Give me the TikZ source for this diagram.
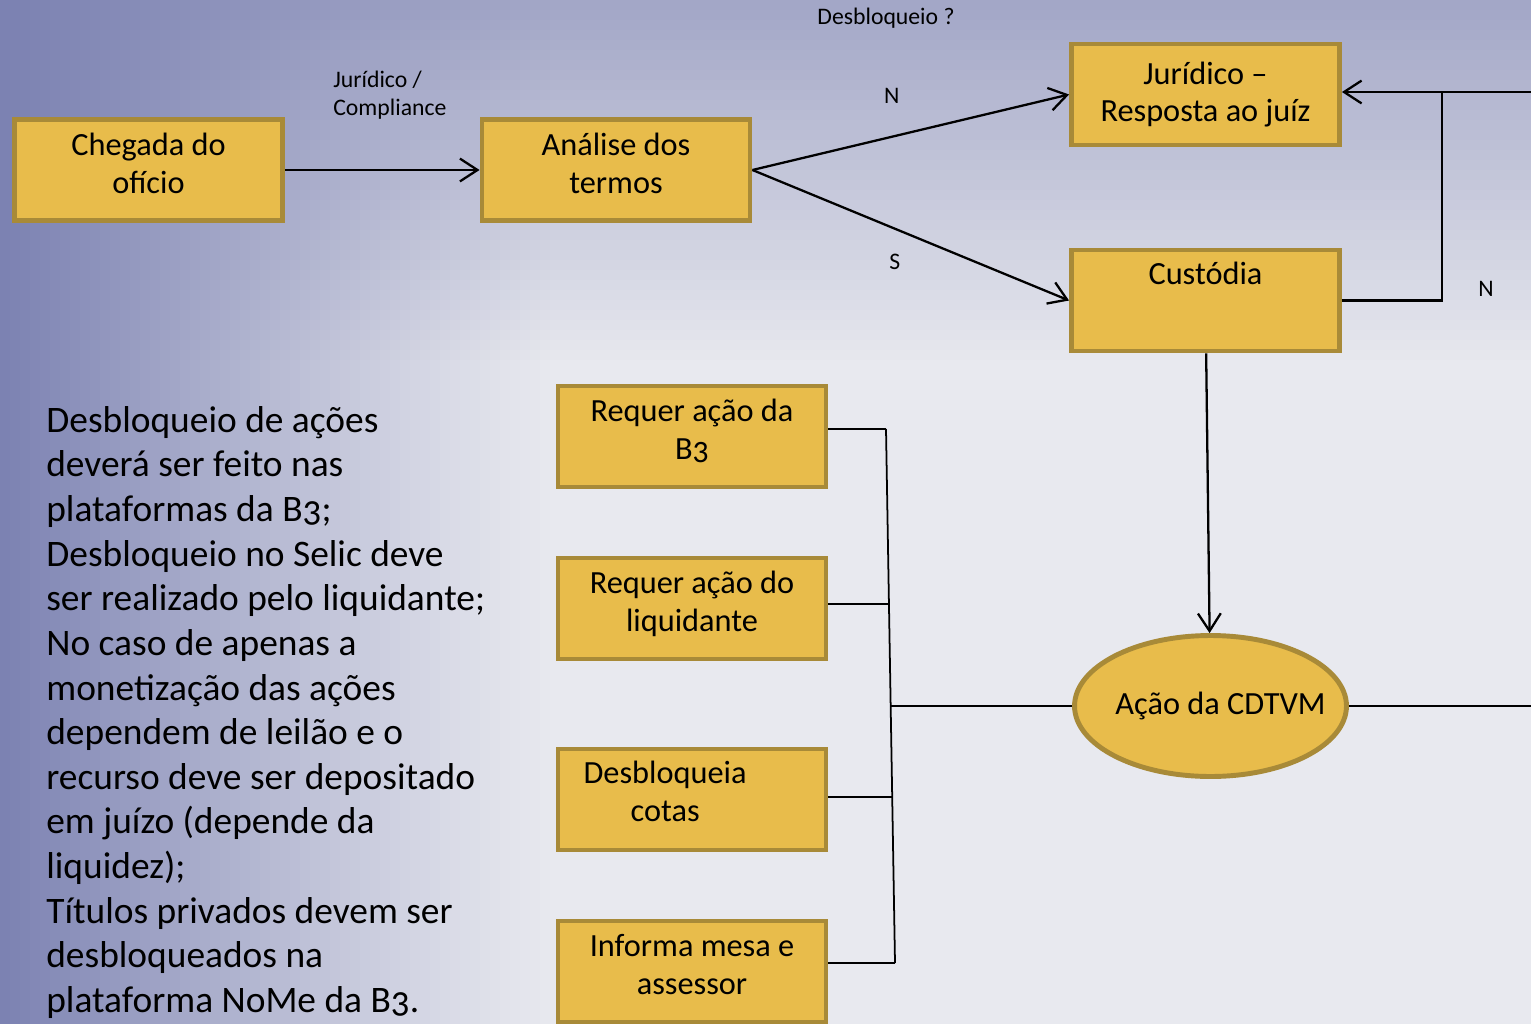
\documentclass[tikz,border=0pt]{standalone}
\usepackage{fontspec}
\setmainfont{Carlito}[Numbers=OldStyle]
\usepackage{xcolor}
\usetikzlibrary{shapes.geometric,arrows.meta}

\definecolor{fundo}{HTML}{E8E9EF}
\definecolor{fundotopo}{HTML}{A3A7C7}
\definecolor{fundoesq}{HTML}{7C82B2}
\definecolor{caixa}{HTML}{E8BC4B}
\definecolor{borda}{HTML}{A88A38}

\newcommand{\caixafont}{\fontsize{18.4}{21.5}\selectfont}
\newcommand{\rotulofont}{\fontsize{13.5}{15.9}\selectfont}
\newcommand{\textofont}{\fontsize{21.3}{25.4}\selectfont}

\begin{document}
\begin{tikzpicture}[x=0.02cm,y=-0.02cm,>={Straight Barb[length=10pt,width=13pt]},
	etapa/.style={rectangle,draw=borda,fill=caixa,line width=2.8pt,minimum width=5.36cm,minimum height=2.02cm,inner sep=0pt,align=center,font=\caixafont},
	sobe/.style={text depth=8pt},
	elipse/.style={ellipse,draw=borda,fill=caixa,line width=2.8pt,minimum width=5.44cm,minimum height=2.82cm,inner ysep=0pt,inner xsep=-14pt,font=\caixafont},
	dentro/.style={anchor=center,align=center,inner sep=0pt,font=\caixafont},
	rotulo/.style={inner sep=0pt,font=\rotulofont},
	linha/.style={line width=1.3pt},
	chave/.style={line width=1pt}]
	% fundo
	\useasboundingbox (0,0) rectangle (1531,1024);
	\fill[fundo] (0,0) rectangle (1531,1024);
	\foreach \i in {0,...,35} {
		\pgfmathsetmacro\op{1-\i/36}
		\fill[fundotopo,opacity=\op] (0,\i*10) rectangle (1531,\i*10+10);
	}
	\foreach \i in {0,...,54} {
		\pgfmathsetmacro\op{(1-\i/55)^1.2}
		\fill[fundoesq,opacity=\op] (\i*10,0) rectangle (\i*10+10,1024);
	}

	\node[etapa,sobe] (chegada) at (148.5,170) {Chegada do\\ofício};
	\node[etapa,sobe] (analise) at (616,170) {Análise dos\\termos};
	\node[etapa] (juridico) at (1205.5,94.5) {Jurídico --\\Resposta ao juíz};
	\node[etapa,label={[dentro,yshift=-14.7pt]90:Custódia}] (custodia) at (1205.5,300.5) {};
	\node[elipse] (acao) at (1210.5,706) {\hspace*{0.4cm}Ação da CDTVM};

	\node[etapa,sobe] (reqb3) at (692,436.5) {Requer ação da\\B3};
	\node[etapa,sobe] (reqliq) at (692,608.5) {Requer ação do\\liquidante};
	\node[etapa,label={[dentro,xshift=-15.3pt,yshift=-25.4pt]90:Desbloqueia\\cotas}] (desbcotas) at (692,799.5) {};
	\node[etapa,sobe] (informa) at (692,971.5) {Informa mesa e\\assessor};

	\node[rotulo,anchor=west,align=left] (jurcomp) at (333,95) {Jurídico /\\Compliance};
	\node[rotulo] (desbloq) at (886,18) {Desbloqueio ?};
	\node[rotulo] (nao2) at (1486,289) {N};

	\node[anchor=north west,align=left,inner sep=0pt,font=\textofont] (texto) at (46,406)
		{Desbloqueio de ações\\deverá ser feito nas\\plataformas da B3;\\Desbloqueio no Selic deve\\ser realizado pelo liquidante;\\No caso de apenas a\\monetização das ações\\dependem de leilão e o\\recurso deve ser depositado\\em juízo (depende da\\liquidez);\\Títulos privados devem ser\\desbloqueados na\\plataforma NoMe da B3.};

	\path[->,linha]
	(chegada) edge (analise)
	(analise.east) edge node[rotulo,pos=.44,yshift=23pt] {N} (juridico.west)
	(analise.east) edge node[rotulo,pos=.45,yshift=-19pt] {S} (custodia.west)
	(custodia) edge (acao)
	;

	% retorno para o juridico
	\coordinate (ret) at (1442,92);
	\coordinate (fim1) at (1531,92);
	\draw[linha] (custodia.east) -| (ret);
	\draw[linha,->] (fim1) -- (ret) -- (juridico.east |- ret);

	% chave das acoes
	\coordinate (k1) at (886,429);
	\coordinate (k2) at (888,604);
	\coordinate (k3) at (892,797);
	\coordinate (k4) at (895,963);
	\coordinate (k0) at (891,706);
	\coordinate (fim2) at (1531,706);
	\draw[chave] (k1) -- (k4);
	\foreach \n/\k in {reqb3/k1,reqliq/k2,desbcotas/k3,informa/k4}
		\draw[chave] (\n.east |- \k) -- (\k);
	\draw[chave] (acao.west) -- (k0);
	\draw[chave] (acao.east) -- (fim2);
\end{tikzpicture}
\end{document}
